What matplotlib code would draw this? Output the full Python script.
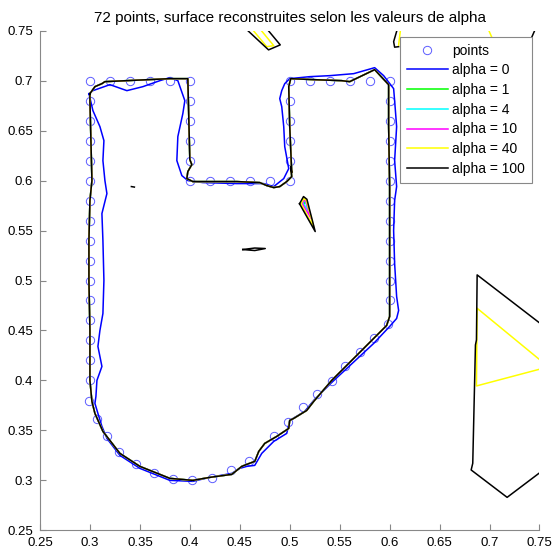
import matplotlib
matplotlib.use("Agg")
import matplotlib.pyplot as plt
from matplotlib.ticker import FuncFormatter

plt.rcParams['font.family'] = ['Liberation Sans', 'DejaVu Sans']

# 72 sample points along the boundary of the shape
pts_x = [0.30, 0.32, 0.34, 0.36, 0.38, 0.40,
         0.40, 0.40, 0.40, 0.40,
         0.40, 0.42, 0.44, 0.46, 0.48, 0.50,
         0.50, 0.50, 0.50, 0.50,
         0.50, 0.52, 0.54, 0.56, 0.58, 0.60,
         0.60, 0.60, 0.60, 0.60, 0.60, 0.60, 0.60, 0.60, 0.60, 0.60, 0.60,
         0.598, 0.584, 0.570, 0.555, 0.542, 0.527,
         0.513, 0.4985, 0.4845, 0.459, 0.441, 0.422, 0.402, 0.383, 0.364, 0.346, 0.3295, 0.317, 0.307, 0.2995,
         0.30, 0.30, 0.30, 0.30, 0.30, 0.30, 0.30, 0.30, 0.30, 0.30, 0.30, 0.30, 0.30, 0.30, 0.30]
pts_y = [0.70, 0.70, 0.70, 0.70, 0.70, 0.70,
         0.68, 0.66, 0.64, 0.62,
         0.60, 0.60, 0.60, 0.60, 0.60, 0.60,
         0.62, 0.64, 0.66, 0.68,
         0.70, 0.70, 0.70, 0.70, 0.70, 0.70,
         0.68, 0.66, 0.64, 0.62, 0.60, 0.58, 0.56, 0.54, 0.52, 0.50, 0.48,
         0.4565, 0.4425, 0.428, 0.4145, 0.3995, 0.386,
         0.373, 0.358, 0.344, 0.319, 0.310, 0.302, 0.300, 0.301, 0.307, 0.316, 0.328, 0.344, 0.361, 0.379,
         0.40, 0.42, 0.44, 0.46, 0.48, 0.50, 0.52, 0.54, 0.56, 0.58, 0.60, 0.62, 0.64, 0.66, 0.68]

# alpha = 0 reconstruction
a0_x = [0.299, 0.303, 0.320, 0.337, 0.353, 0.370, 0.380, 0.388, 0.395, 0.393, 0.388, 0.387,
        0.392, 0.398, 0.413, 0.447, 0.474, 0.484, 0.494, 0.499, 0.495, 0.494, 0.492, 0.490,
        0.492, 0.495, 0.500, 0.520, 0.540, 0.564, 0.585, 0.594, 0.604, 0.605, 0.607, 0.605,
        0.607, 0.605, 0.604, 0.605, 0.607, 0.609, 0.607, 0.600, 0.584, 0.541, 0.524, 0.515,
        0.500, 0.497, 0.484, 0.472, 0.465, 0.457, 0.450, 0.442, 0.420, 0.403, 0.380, 0.350,
        0.330, 0.317, 0.312, 0.308, 0.305, 0.306, 0.307, 0.312, 0.308, 0.310, 0.313, 0.314,
        0.313, 0.312, 0.317, 0.315, 0.313, 0.314, 0.310, 0.303, 0.299]
a0_y = [0.687, 0.690, 0.696, 0.690, 0.694, 0.700, 0.703, 0.700, 0.680, 0.667, 0.644, 0.620,
        0.605, 0.600, 0.598, 0.597, 0.597, 0.594, 0.602, 0.612, 0.634, 0.654, 0.674, 0.682,
        0.690, 0.697, 0.702, 0.704, 0.705, 0.707, 0.713, 0.705, 0.692, 0.680, 0.654, 0.620,
        0.594, 0.580, 0.550, 0.517, 0.484, 0.470, 0.462, 0.454, 0.437, 0.397, 0.380, 0.369,
        0.360, 0.347, 0.339, 0.327, 0.315, 0.314, 0.312, 0.307, 0.303, 0.299, 0.300, 0.312,
        0.325, 0.342, 0.354, 0.367, 0.377, 0.384, 0.400, 0.414, 0.434, 0.450, 0.467, 0.500,
        0.540, 0.567, 0.587, 0.600, 0.620, 0.640, 0.654, 0.670, 0.687]

# main contour for alpha >= 1
main_x = [0.300, 0.305, 0.312, 0.315, 0.380, 0.398, 0.399, 0.400, 0.402, 0.398, 0.397,
          0.403, 0.447, 0.470, 0.477, 0.484, 0.490, 0.497, 0.502, 0.501, 0.502, 0.500,
          0.499, 0.501, 0.524, 0.552, 0.560, 0.585, 0.599, 0.599, 0.600, 0.600, 0.600,
          0.597, 0.592, 0.584, 0.542, 0.524, 0.517, 0.504, 0.500, 0.499, 0.487, 0.475,
          0.469, 0.465, 0.457, 0.452, 0.442, 0.420, 0.403, 0.380, 0.350, 0.330, 0.313,
          0.305, 0.302, 0.300, 0.300, 0.299, 0.299, 0.300, 0.302, 0.301, 0.300, 0.300]
main_y = [0.687, 0.694, 0.697, 0.699, 0.702, 0.702, 0.661, 0.621, 0.616, 0.609, 0.602,
          0.599, 0.599, 0.598, 0.595, 0.593, 0.594, 0.599, 0.604, 0.614, 0.608, 0.654,
          0.694, 0.702, 0.701, 0.700, 0.699, 0.711, 0.696, 0.654, 0.594, 0.534, 0.464,
          0.455, 0.450, 0.442, 0.400, 0.379, 0.370, 0.362, 0.360, 0.352, 0.344, 0.337,
          0.329, 0.319, 0.316, 0.314, 0.306, 0.303, 0.300, 0.302, 0.314, 0.327, 0.349,
          0.367, 0.379, 0.400, 0.450, 0.500, 0.540, 0.580, 0.600, 0.640, 0.680, 0.687]

# small spurious loops (nested, one per alpha)
kite_x = {
    1: [0.5140, 0.5150, 0.5156, 0.5148, 0.5140],
    4: [0.5133, 0.5145, 0.5157, 0.5190, 0.5133],
    10: [0.5125, 0.5142, 0.5160, 0.5215, 0.5125],
    40: [0.5113, 0.5140, 0.5165, 0.5245, 0.5113],
    100: [0.5098, 0.5138, 0.5172, 0.5255, 0.5098],
}
kite_y = {
    1: [0.5780, 0.5795, 0.5790, 0.5770, 0.5780],
    4: [0.5775, 0.5798, 0.5790, 0.5690, 0.5775],
    10: [0.5770, 0.5805, 0.5795, 0.5620, 0.5770],
    40: [0.5768, 0.5820, 0.5805, 0.5520, 0.5768],
    100: [0.5768, 0.5840, 0.5813, 0.5490, 0.5768],
}

# black fragments (alpha = 100)
frag_black = [
    ([0.4530, 0.4650, 0.4755, 0.4650, 0.4530], [0.5310, 0.5300, 0.5320, 0.5325, 0.5310]),
    ([0.3415, 0.3445], [0.5940, 0.5935]),
    ([0.4560, 0.4788, 0.4905, 0.4770], [0.7520, 0.7308, 0.7358, 0.7520]),
    ([0.6078, 0.6040, 0.6050, 0.6090], [0.7520, 0.7390, 0.7335, 0.7340]),
    ([0.7425, 0.7460], [0.7440, 0.7520]),
    ([0.7560, 0.6876, 0.6869, 0.6859, 0.6832, 0.6816, 0.7176, 0.7560],
     [0.4530, 0.5056, 0.4405, 0.4355, 0.3171, 0.3104, 0.2830, 0.3120]),
]
# yellow fragments (alpha = 40)
frag_yellow = [
    ([0.4620, 0.4770, 0.4840, 0.4700], [0.7520, 0.7340, 0.7350, 0.7520]),
    ([0.6110, 0.6090], [0.7520, 0.7356]),
    ([0.6985, 0.7020], [0.7520, 0.7440]),
    ([0.7560, 0.6876, 0.6869, 0.7560], [0.4160, 0.4722, 0.3945, 0.4128]),
]

alphas = [0, 1, 4, 10, 40, 100]
colors = {0: 'blue', 1: '#00ff00', 4: 'cyan', 10: 'magenta', 40: 'yellow', 100: 'black'}

fig = plt.figure(figsize=(5.56, 5.53), dpi=100)
ax = fig.add_axes([0.0719, 0.041, 0.8984, 0.9035])

ax.plot(pts_x, pts_y, 'o', mfc='none', mec='#5c5cff', ms=6, mew=0.7, label='points')

for a in alphas:
    c = colors[a]
    if a == 0:
        ax.plot(a0_x, a0_y, color=c, lw=1.1, label='alpha = 0')
        continue
    ax.plot(main_x, main_y, color=c, lw=1.1, label='alpha = %d' % a)
    ax.plot(kite_x[a], kite_y[a], color=c, lw=1.1)
    if a == 40:
        for fx, fy in frag_yellow:
            ax.plot(fx, fy, color=c, lw=1.1)
    if a == 100:
        for fx, fy in frag_black:
            ax.plot(fx, fy, color=c, lw=1.1)

ax.set_xlim(0.25, 0.75)
ax.set_ylim(0.25, 0.75)
ticks = [0.25, 0.3, 0.35, 0.4, 0.45, 0.5, 0.55, 0.6, 0.65, 0.7, 0.75]
ax.set_xticks(ticks)
ax.set_yticks(ticks)
fmt = FuncFormatter(lambda v, p: '%g' % round(v, 2))
ax.xaxis.set_major_formatter(fmt)
ax.yaxis.set_major_formatter(fmt)
ax.tick_params(direction='in', length=4, width=0.8, color='#888888', labelsize=9.5, pad=5)

for s in ['top', 'right']:
    ax.spines[s].set_visible(False)
for s in ['left', 'bottom']:
    ax.spines[s].set_color('#888888')
    ax.spines[s].set_linewidth(0.8)

ax.set_title('72 points, surface reconstruites selon les valeurs de alpha', fontsize=11, pad=6)

leg = ax.legend(loc='upper right', bbox_to_anchor=(0.9856, 0.988), borderaxespad=0,
                fancybox=False, edgecolor='#888888', framealpha=1, fontsize=10,
                handlelength=2.9, handletextpad=0.35, labelspacing=0.41, borderpad=0.5)
leg.get_frame().set_linewidth(0.8)

fig.savefig('out.png', dpi=100)
